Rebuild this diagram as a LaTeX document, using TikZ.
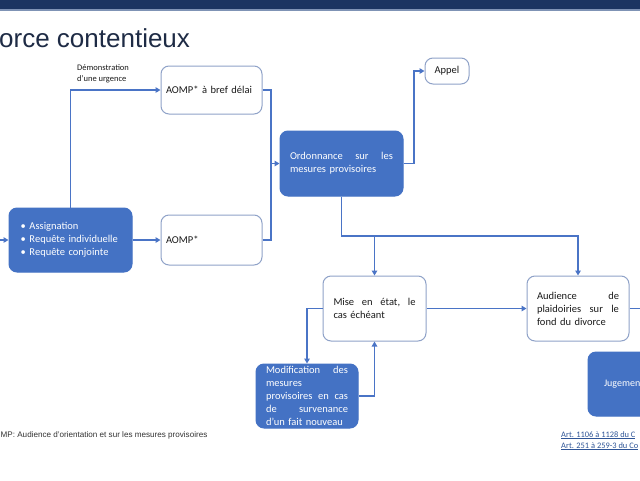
\documentclass[tikz,border=0pt]{standalone}
\usepackage{fontspec}
\setmainfont{Carlito}
\newfontfamily\arialf{Liberation Sans}
\usetikzlibrary{arrows.meta}
\definecolor{bluefill}{HTML}{4472C4}
\definecolor{linec}{HTML}{4A74C6}
\definecolor{borderc}{HTML}{8FA2C8}
\definecolor{navy}{HTML}{1B3461}
\definecolor{barline}{HTML}{7F93B5}
\definecolor{titlec}{HTML}{1E2B45}
\definecolor{textc}{HTML}{1A1A1A}
\definecolor{linkc}{HTML}{2F5597}
\definecolor{notec}{HTML}{333333}
\begin{document}
\begin{tikzpicture}[x=1pt,y=-1pt,
  boxfont/.style={font=\fontsize{10.5}{13}\selectfont},
  bluebox/.style={boxfont, draw=bluefill, fill=bluefill, line width=1pt, rounded corners=8pt,
    text=white, align=left, inner ysep=0pt},
  whitebox/.style={boxfont, draw=borderc, fill=white, line width=1pt, rounded corners=8pt,
    text=textc, align=left, inner ysep=0pt},
  conn/.style={draw=linec, line width=1.8pt},
  arr/.style={conn, -{Triangle[length=5pt,width=5.5pt]}},
  smalllabel/.style={font=\fontsize{8.5}{11}\selectfont, text=textc, align=left, inner sep=0pt},
  linktext/.style={font=\fontsize{8.4}{11}\selectfont, text=linkc, inner sep=0pt, anchor=base west}
]
\useasboundingbox (0,0) rectangle (640,480);
\clip (0,0) rectangle (640,480);
\fill[white] (0,0) rectangle (640,480);

% top bar
\fill[navy] (0,0) rectangle (640,9);
\fill[barline] (0,9) rectangle (640,10.5);

% title
\node[anchor=base west, inner sep=0pt, text=titlec, font=\arialf\fontsize{26}{30}\selectfont] (title) at (-1,47) {orce contentieux};

% nodes
\node[bluebox, text width=100pt, inner xsep=11.5pt, minimum height=64pt] (assign) at (70.5,240)
  {\makebox[9pt][l]{\textbullet}Assignation\\\makebox[9pt][l]{\textbullet}Requête individuelle\\\makebox[9pt][l]{\textbullet}Requête conjointe};
\node[whitebox, text width=91pt, inner xsep=5pt, minimum height=48pt] (bref) at (211.5,90) {AOMP* à bref délai};
\node[whitebox, text width=91pt, inner xsep=5pt, minimum height=50pt] (aomp) at (211.5,240) {AOMP*};
\node[bluebox, text width=103pt, inner xsep=10pt, minimum height=65pt] (ord) at (341.5,163.5)
  {Ordonnance\hfill sur\hfill les\\mesures provisoires};
\node[whitebox, minimum width=44pt, minimum height=26pt, inner xsep=2pt, align=center] (appel) at (447,71) {Appel};
\node[whitebox, text width=82pt, inner xsep=10.5pt, minimum height=65pt] (mise) at (374.5,308.5)
  {Mise\hfill en\hfill état,\hfill le\\cas échéant};
\node[whitebox, text width=82pt, inner xsep=10pt, minimum height=65pt] (aud) at (578,308.5)
  {Audience\hfill de\\plaidoiries\hfill sur\hfill le\\fond du divorce};
\node[bluebox, text width=82pt, inner xsep=10pt, minimum height=64pt] (modif) at (307,396)
  {Modification\hfill des\\mesures\\provisoires\hfill en\hfill cas\\de\hfill survenance\\d’un fait nouveau};
\node[bluebox, text width=90pt, inner xsep=16pt, minimum height=64pt, font=\fontsize{10}{12}\selectfont] (jug) at (649,384) {Jugemen};

% label
\node[smalllabel, anchor=north west] (urg) at (77,64) {Démonstration\\d’une urgence};

% helper coordinates
\coordinate (le) at (0,240);
\coordinate (merge) at (271,163.5);
\coordinate (apx) at (414,0);
\coordinate (hy) at (0,236);
\coordinate (re) at (640,0);

% connectors
\draw[arr] (le) -- (assign.west);
\draw[arr] (assign.north) |- (bref.west);
\draw[arr] (assign.east) -- (aomp.west);
\draw[conn] (bref.east) -| (merge);
\draw[conn] (aomp.east) -| (merge);
\draw[arr] (merge) -- (ord.west);
\draw[arr] (ord.east) -- (ord.east -| apx) |- (appel.west);
\draw[arr] (ord.south) -- (ord.south |- hy) -| (aud.north);
\draw[arr] (mise.north |- hy) -- (mise.north);
\draw[arr] (mise.east) -- (aud.west);
\draw[conn] (aud.east) -- (aud.east -| re);
\draw[arr] (mise.west) -| (modif.north);
\draw[arr] (modif.east) -| (mise.south);

% footnotes
\node[anchor=base west, inner sep=0pt, text=notec, font=\arialf\fontsize{8.1}{9}\selectfont] (note) at (0.5,437)
  {MP: Audience d’orientation et sur les mesures provisoires};
\node[linktext] (art1) at (561,437) {\underline{Art. 1106 à 1128 du C}};
\node[linktext] (art2) at (561,448) {\underline{Art. 251 à 259-3 du Co}};
\end{tikzpicture}
\end{document}
